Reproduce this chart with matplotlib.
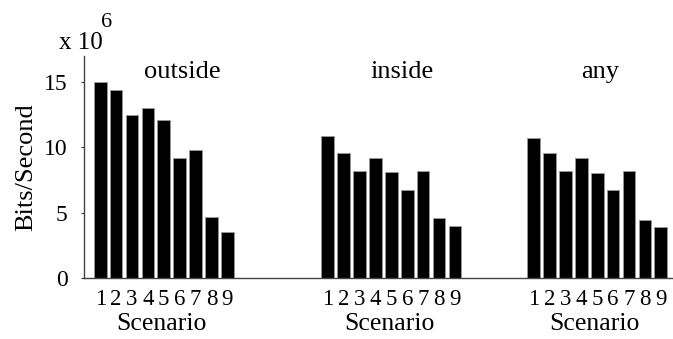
import matplotlib
matplotlib.use("Agg")
import matplotlib.pyplot as plt
import numpy as np

plt.rcParams['font.family'] = ['Liberation Serif', 'DejaVu Serif']

# Throughput per scenario (units of 1e6 bits/second)
scenarios = [1, 2, 3, 4, 5, 6, 7, 8, 9]
groups = ["outside", "inside", "any"]
outside = [15.0, 14.4, 12.45, 13.05, 12.1, 9.2, 9.8, 4.65, 3.5]
inside = [10.85, 9.6, 8.15, 9.2, 8.1, 6.7, 8.15, 4.55, 4.0]
any_dir = [10.75, 9.6, 8.15, 9.15, 8.05, 6.7, 8.15, 4.4, 3.9]
series = [outside, inside, any_dir]

# layout of the three groups along one shared axis
group_start = [1.0, 15.33, 28.29]
title_x = [6.14, 20.0, 32.5]
bar_width = 0.8

fig = plt.figure(figsize=(6.73, 3.39), dpi=100)
ax = fig.add_axes([0.1253, 0.1808, 0.8733, 0.654])

tick_pos = []
tick_lab = []
for start, vals, name, tx in zip(group_start, series, groups, title_x):
    xs = start + np.arange(len(scenarios))
    ax.bar(xs, vals, width=bar_width, color='black', edgecolor='#9a9a9a',
           linewidth=0.6)
    tick_pos.extend(xs)
    tick_lab.extend(str(s) for s in scenarios)
    ax.text(tx, 15.3, name, ha='center', va='baseline', fontsize=19)
    ax.text(xs.mean() - 0.15, -4.0, "Scenario", ha='center', va='baseline',
            fontsize=18.5, clip_on=False)

ax.set_xlim(0, 37)
ax.set_ylim(0, 17)
ax.set_xticks(tick_pos)
ax.set_xticklabels(tick_lab, fontsize=16.5)
ax.tick_params(axis='x', length=0, pad=8)
ax.set_yticks([0, 5, 10, 15])
ax.set_yticklabels(['0', '5', '10', '15'], fontsize=17)
ax.tick_params(axis='y', direction='out', length=2, width=0.8, pad=10,
               color='#333333')
ax.set_ylabel("Bits/Second", fontsize=19, labelpad=5)

for side in ('top', 'right'):
    ax.spines[side].set_visible(False)
for side in ('left', 'bottom'):
    ax.spines[side].set_color('#444444')
    ax.spines[side].set_linewidth(1.0)

fig.text(59 / 673, 1 - 49 / 339, "x 10", fontsize=18, ha='left', va='baseline')
fig.text(101 / 673, 1 - 27 / 339, "6", fontsize=16, ha='left', va='baseline')

fig.savefig("out.png", dpi=100)
